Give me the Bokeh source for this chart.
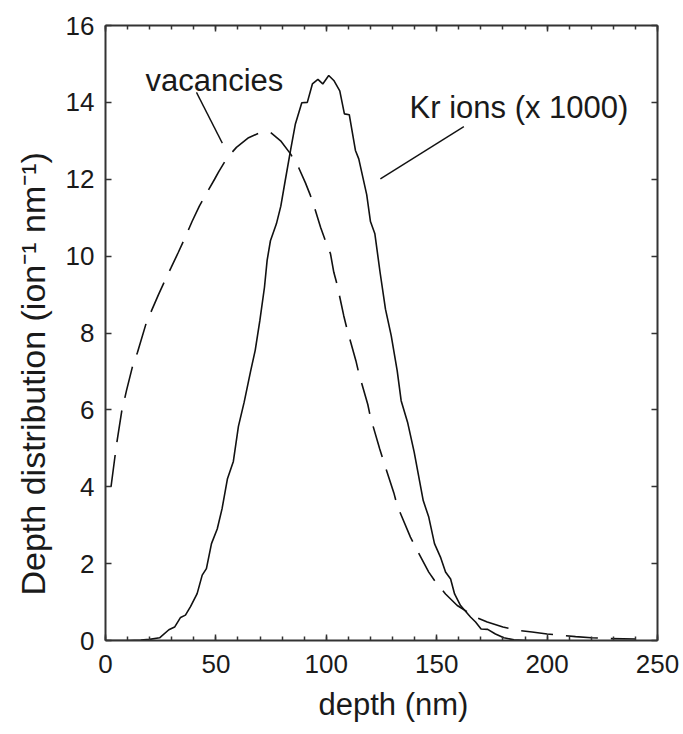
from bokeh.plotting import figure
from bokeh.models import Range1d, LinearAxis, SingleIntervalTicker, Label, Title
from bokeh.embed import file_html
from bokeh.resources import INLINE

# Kr ion depth profile (scaled x 1000), ion^-1 nm^-1
depth_kr = [0, 10, 16, 20, 24.5, 28.7, 31.3, 34, 36.2, 38.5, 41.5, 43.8, 45.7,
            48, 50.6, 52.8, 55.2, 57.9, 60.2, 62.8, 65.7, 67.8, 69.9, 72, 73.2,
            74.7, 77.4, 79.4, 81.5, 83.8, 86, 88.9, 91.4, 93.7, 96.2, 98.4,
            101.1, 103.4, 106.1, 108.2, 110.4, 113.2, 114.7, 118.3, 120, 122,
            124.3, 126.8, 129.4, 132.1, 133.9, 136.8, 139.8, 143.9, 146.4, 149,
            151.7, 154, 156.3, 158.1, 160.8, 165.3, 167.6, 170.1, 173.1, 176.6,
            180.4, 185, 191, 200]
kr_ions = [0, 0, 0.01, 0.03, 0.07, 0.28, 0.35, 0.6, 0.66, 0.88, 1.22, 1.7, 1.87,
           2.52, 2.9, 3.43, 4.2, 4.66, 5.57, 6.2, 7.0, 7.55, 8.32, 9.19, 9.89,
           10.4, 10.84, 11.3, 12.0, 12.75, 13.44, 13.99, 14.0, 14.48, 14.6, 14.48,
           14.7, 14.57, 14.3, 13.7, 13.68, 12.75, 12.53, 11.6, 10.9, 10.58,
           9.6, 8.62, 7.93, 7.02, 6.24, 5.68, 4.9, 3.64, 3.21, 2.52,
           2.17, 1.78, 1.6, 1.21, 0.91, 0.61, 0.48, 0.3, 0.29, 0.17,
           0.07, 0.02, 0.0, 0.0]

# Vacancy depth profile, ion^-1 nm^-1
depth_vac = [2.5, 5, 7.3, 9.5, 12.1, 14.5, 18.4, 21, 24, 27.2, 29.7, 33, 36.2,
             39.2, 42.5, 46, 49.4, 51.3, 55, 59.3, 64.8, 70.2, 74.7, 79.3, 83.8,
             87.5, 90.6, 92.8, 95, 97.4, 99.6, 101.9, 103.4, 104.9, 107.9, 109.4,
             113.4, 114.7, 118.8, 120, 124.2, 126, 130.6, 132.1, 138.1, 141.2,
             146.4, 149.5, 154, 159.3, 167.6, 172.9, 180, 187.2, 193.2, 200,
             207.6, 212.9, 220, 228.7, 240]
vacancies = [4.0, 5.1, 5.95, 6.5, 7.1, 7.5, 8.25, 8.6, 9.0, 9.4, 9.7, 10.1, 10.5,
             10.9, 11.3, 11.66, 12.0, 12.2, 12.55, 12.83, 13.08, 13.22, 13.22, 13.0,
             12.66, 12.3, 11.9, 11.58, 11.2, 10.75, 10.4, 10.06, 9.58, 9.26, 8.45,
             8.1, 7.28, 6.96, 6.14, 5.81, 4.98, 4.65, 3.84, 3.51, 2.69, 2.34,
             1.78, 1.52, 1.21, 0.91, 0.61, 0.48, 0.35, 0.26, 0.22, 0.17,
             0.13, 0.10, 0.07, 0.05, 0.04]

# Curve labels and their leader lines (data units)
label_vac = ("vacancies", 18.1, 14.57)
leader_vac = ([41.2, 52.9], [14.26, 12.94])
label_kr = ("Kr ions (x 1000)", 137.7, 13.87)
leader_kr = ([162.3, 124.5], [13.37, 12.01])

X_LABEL = "depth (nm)"
Y_LABEL = "Depth distribution (ion\u207b\u00b9 nm\u207b\u00b9)"

FONT = "Liberation Sans"
INK = "#111111"
TEXT = "#1a1a1a"
AXIS_INK = "#333333"

p = figure(width=683, height=734, output_backend="svg", toolbar_location=None,
           x_range=Range1d(0, 250), y_range=Range1d(0, 16),
           x_axis_location=None, y_axis_location=None,
           min_border_left=105, min_border_right=26,
           min_border_top=25, min_border_bottom=94)
p.grid.visible = False
p.outline_line_color = None
p.background_fill_color = "white"
p.border_fill_color = "white"


def styled_axis(kind, labelled):
    ticker = (SingleIntervalTicker(interval=50, num_minor_ticks=5) if kind == "x"
              else SingleIntervalTicker(interval=2, num_minor_ticks=0))
    ax = LinearAxis(ticker=ticker)
    ax.axis_line_color = AXIS_INK
    ax.axis_line_width = 2
    ax.major_tick_line_color = AXIS_INK
    ax.minor_tick_line_color = AXIS_INK
    ax.major_tick_line_width = 1.5
    ax.minor_tick_line_width = 1.5
    ax.major_tick_in = 6
    ax.major_tick_out = 0
    ax.minor_tick_in = 4
    ax.minor_tick_out = 0
    if labelled:
        ax.major_label_text_font = FONT
        ax.major_label_text_font_size = "26px"
        ax.major_label_text_color = TEXT
    else:
        # mirrored frame side: ticks only
        ax.major_label_text_font_size = "1px"
        ax.major_label_text_color = None
        ax.major_label_text_alpha = 0
        ax.major_label_standoff = 0
    return ax


xb = styled_axis("x", True)
xb.major_label_standoff = 14
p.add_layout(xb, "below")

yl = styled_axis("y", True)
yl.major_label_standoff = 11
p.add_layout(yl, "left")

p.add_layout(styled_axis("x", False), "above")
p.add_layout(styled_axis("y", False), "right")

# axis titles, set off along their axes from the frame corner
p.add_layout(Title(text=X_LABEL, align="left", offset=213, standoff=18,
                   text_font=FONT, text_font_size="31px", text_font_style="normal",
                   text_color=TEXT), "below")
p.add_layout(Title(text=Y_LABEL, align="left", offset=45, standoff=22,
                   text_font=FONT, text_font_size="34px", text_font_style="normal",
                   text_color=TEXT), "left")

p.line(depth_vac, vacancies, line_color=INK, line_width=1.6, line_dash="32 13")
p.line(depth_kr, kr_ions, line_color=INK, line_width=1.6)

for (txt, lx, ly), (sx, sy) in ((label_vac, leader_vac), (label_kr, leader_kr)):
    p.line(sx, sy, line_color=INK, line_width=1.4)
    p.add_layout(Label(x=lx, y=ly, text=txt, text_font=FONT, text_font_size="31px",
                       text_color=TEXT, text_baseline="alphabetic"))

open("out.html", "w").write(file_html(p, INLINE))
